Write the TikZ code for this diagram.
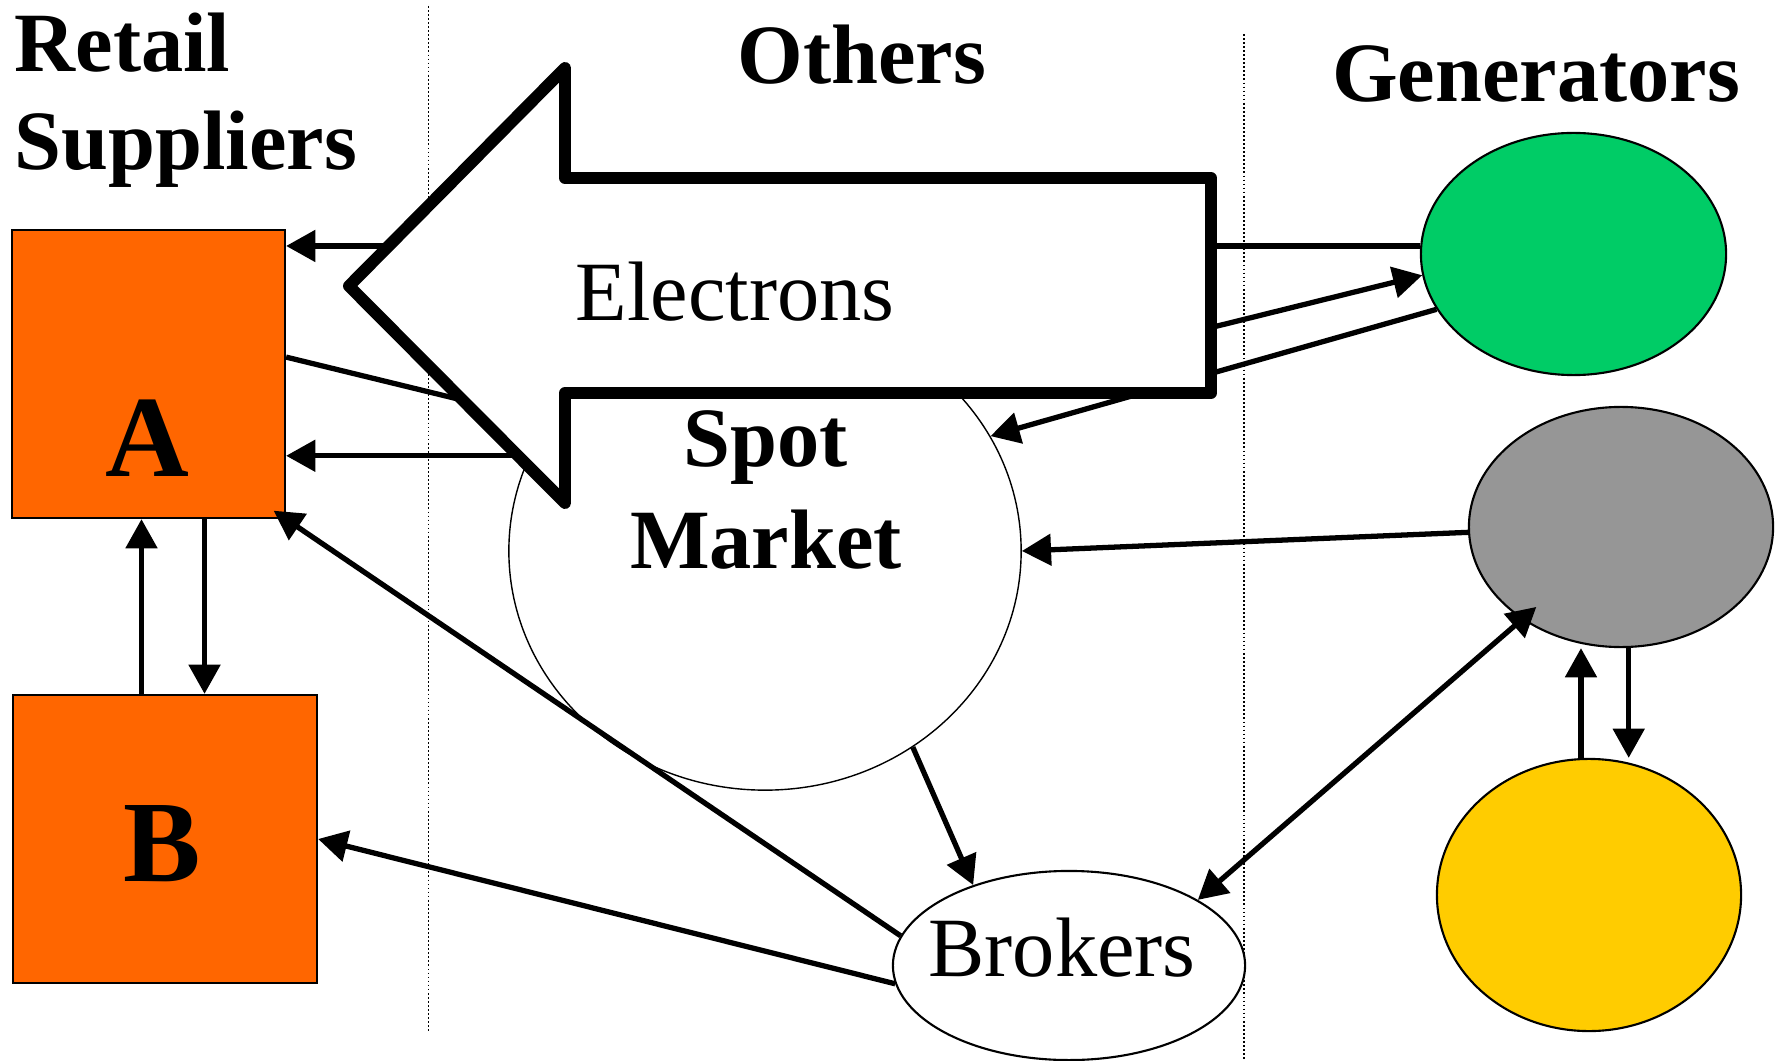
\documentclass[tikz,border=0pt]{standalone}
\usepackage{fontspec}
\setmainfont{Liberation Serif}
\usetikzlibrary{arrows.meta,shapes.geometric}
\definecolor{supplierorange}{HTML}{FF6600}
\definecolor{gengreen}{HTML}{00CC66}
\definecolor{gengray}{HTML}{969696}
\definecolor{genyellow}{HTML}{FFCC00}

\begin{document}
\begin{tikzpicture}
  [x=0.01cm,y=-0.01cm,every node/.style={inner sep=0pt}]

	\tikzset{
	flow/.style = {line width=1.5pt,-{Triangle[length=8.3pt,width=8.8pt]}},
	twoway/.style = {line width=1.5pt,{Triangle[length=8.3pt,width=8.8pt]}-{Triangle[length=8.3pt,width=8.8pt]}},
	plain/.style = {line width=1.5pt},
	supplier/.style = {rectangle,draw,line width=0.6pt,fill=supplierorange,minimum height=2.88cm},
	blob/.style = {ellipse,draw,line width=0.6pt,minimum width=3.04cm},
	divider/.style = {line width=0.45pt,dash pattern=on 0.5pt off 0.65pt},
	head/.style = {font=\fontsize{24}{28}\selectfont\bfseries},
	letter/.style = {font=\fontsize{33}{40}\selectfont\bfseries},
	word/.style = {font=\fontsize{24}{28}\selectfont}
	}

  \useasboundingbox (0,0) rectangle (1782,1061);

  \draw[divider] (428.6,6) -- (428.6,1032);
  \draw[divider] (1244,34) -- (1244,1061);

  \node[supplier,minimum width=2.73cm] (sA) at (148.5,374) {};
  \node[supplier,minimum width=3.04cm] (sB) at (165,839) {};
  \node[blob,fill=white,line width=0.4pt,minimum width=5.12cm,minimum height=4.78cm] (spot) at (765,551) {};
  \node[blob,fill=white,minimum width=3.52cm,minimum height=1.89cm] (brk) at (1069,965.5) {};
  \node[blob,fill=gengreen,minimum width=3.05cm,minimum height=2.42cm] (g1) at (1573.5,254) {};
  \node[blob,fill=gengray,minimum height=2.40cm] (g2) at (1621,527) {};
  \node[blob,fill=genyellow,minimum height=2.72cm] (g3) at (1589,895) {};

  \coordinate (aup) at ([xshift=-0.07cm]sA.south);
  \coordinate (adown) at ([xshift=0.56cm]sA.south);
  \coordinate (gup) at ([xshift=-0.4cm]g2.south);
  \coordinate (gdown) at ([xshift=0.077cm]g2.south);

  \draw[flow] (aup |- sB.north) -- (aup);
  \draw[flow] (adown) -- (adown |- sB.north);
  \draw[flow] (gup |- g3.north) -- (gup);
  \draw[flow] (gdown) -- (gdown |- g3.north);

  \draw[flow] (g1.177) -- (g1.177 -| sA.east);
  \draw[flow] (spot.158) -- (spot.158 -| sA.east);
  \draw[plain] (sA.7) -- (spot.149);
  \foreach \from/\to in {spot.40/g1.188,g1.202/spot.27,g2.182/spot.east,spot.307/brk.140,brk.186/sB.east}
    \draw[flow] (\from) -- (\to);
  \draw[flow,shorten >=-0.15cm] (brk.170) -- (sA.south east);
  \draw[twoway,shorten >=-0.19cm] (brk.27) -- (g2.223);

  \draw[line width=3.4pt,line join=round,fill=white] (349,286) -- (565,68) -- (565,178) -- (1211,178) -- (1211,393) -- (565,393) -- (565,503) -- cycle;

  \node[head,anchor=north west,align=left] (retail) at (14,12) {Retail\\Suppliers};
  \node[head,anchor=base] (others) at (862,84) {Others};
  \node[head,anchor=base] (gens) at (1536,102) {Generators};
  \node[word,anchor=base] (elec) at (735,321) {Electrons};
  \node[anchor=north,align=center,font=\fontsize{24}{29}\selectfont\bfseries] (spottext) at (766,410) {Spot\\Market};
  \node[letter,anchor=base] (atext) at (147,476) {A};
  \node[letter,anchor=base] (btext) at (162,881) {B};
  \node[word,anchor=base] (brktext) at (1062,976) {Brokers};

\end{tikzpicture}
\end{document}
